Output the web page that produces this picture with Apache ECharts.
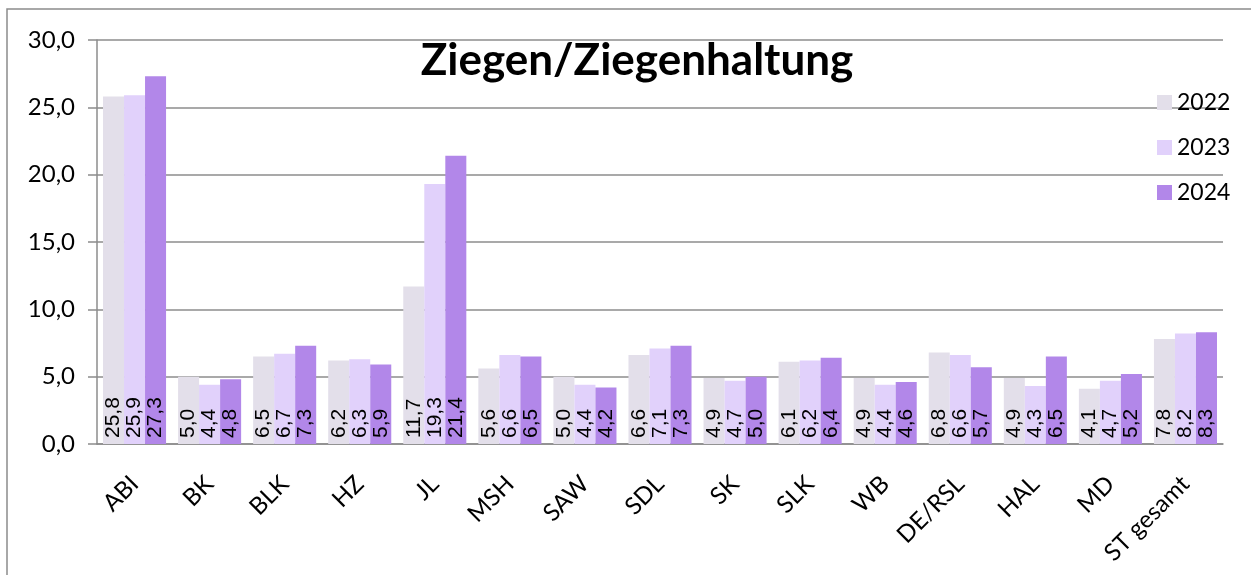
<!DOCTYPE html>
<html>
<head>
<meta charset="utf-8">
<script src="https://cdn.jsdelivr.net/npm/echarts@6/dist/echarts.min.js"></script>
<style>
  html, body { margin: 0; padding: 0; background: #fff; }
  #main { width: 1251px; height: 575px; }
</style>
</head>
<body>
<div id="main"></div>
<script>
// Daten
var kreise = ['ABI', 'BK', 'BLK', 'HZ', 'JL', 'MSH', 'SAW', 'SDL', 'SK', 'SLK', 'WB', 'DE/RSL', 'HAL', 'MD', 'ST gesamt']
var werte2022 = [25.8, 5.0, 6.5, 6.2, 11.7, 5.6, 5.0, 6.6, 4.9, 6.1, 4.9, 6.8, 4.9, 4.1, 7.8]
var werte2023 = [25.9, 4.4, 6.7, 6.3, 19.3, 6.6, 4.4, 7.1, 4.7, 6.2, 4.4, 6.6, 4.3, 4.7, 8.2]
var werte2024 = [27.3, 4.8, 7.3, 5.9, 21.4, 6.5, 4.2, 7.3, 5.0, 6.4, 4.6, 5.7, 6.5, 5.2, 8.3]
var jahre = ['2022', '2023', '2024']
var farben = ['#e3dfea', '#e1d1fb', '#b287e9']

var fmt = (v) => v.toFixed(1).replace('.', ',')

var chart = echarts.init(document.querySelector('#main'))

var serie = (name, data, color) => {
    return {
        name: name,
        type: 'bar',
        data: data,
        barGap: '0%',
        barCategoryGap: '16%',
        itemStyle: { color: color },
        label: {
            show: true,
            position: 'insideBottom',
            distance: 6,
            rotate: 90,
            align: 'left',
            verticalAlign: 'middle',
            color: '#000',
            fontFamily: 'Liberation Sans',
            fontSize: 21,
            formatter: (p) => fmt(p.value),
        },
    }
}

chart.setOption({
    animation: false,
    title: {
        text: 'Ziegen/Ziegenhaltung',
        left: 632,
        textAlign: 'center',
        top: 34,
        textStyle: { fontFamily: 'Lato', fontWeight: 'bold', fontSize: 44, color: '#000' },
    },
    legend: {
        orient: 'vertical',
        left: 1152,
        top: 86,
        itemWidth: 15,
        itemHeight: 15,
        itemGap: 22,
        icon: 'rect',
        textStyle: { fontFamily: 'Lato', fontSize: 23, color: '#000' },
        data: jahre,
    },
    graphic: [
        {
            type: 'rect',
            shape: { x: 7, y: 9, width: 1300, height: 620 },
            style: { fill: 'none', stroke: '#8c8c8c', lineWidth: 1.5 },
            silent: true,
        },
    ],
    grid: { left: 97, right: 28, top: 40, bottom: 131 },
    xAxis: {
        type: 'category',
        data: kreise,
        axisLine: { lineStyle: { color: '#8c8c8c', width: 1.5 } },
        axisTick: { length: 8, lineStyle: { color: '#8c8c8c', width: 1.5 } },
        axisLabel: { rotate: 45, margin: 36, color: '#000', fontFamily: 'Lato', fontSize: 24, interval: 0 },
    },
    yAxis: {
        type: 'value',
        min: 0,
        max: 30,
        interval: 5,
        axisLine: { show: true, lineStyle: { color: '#8c8c8c', width: 1.5 } },
        axisTick: { show: true, length: 9, lineStyle: { color: '#8c8c8c', width: 1.5 } },
        splitLine: { lineStyle: { color: '#8c8c8c', width: 1.5 } },
        axisLabel: { margin: 22, color: '#000', fontFamily: 'Lato', fontSize: 24, formatter: (v) => fmt(v) },
    },
    series: [
        serie(jahre[0], werte2022, farben[0]),
        serie(jahre[1], werte2023, farben[1]),
        serie(jahre[2], werte2024, farben[2]),
    ],
})
</script>
</body>
</html>
